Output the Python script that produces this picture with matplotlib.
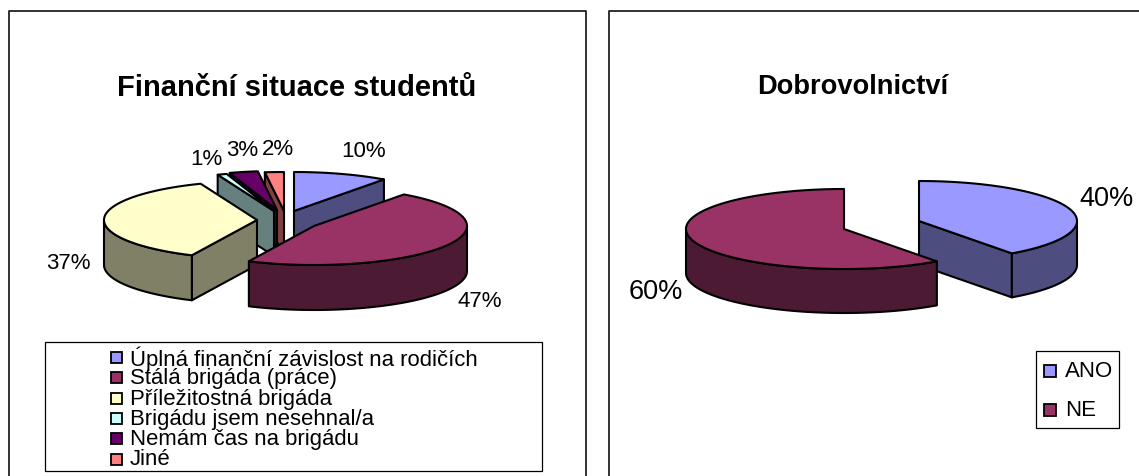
import numpy as np
import matplotlib
matplotlib.use("Agg")
import matplotlib.pyplot as plt
from matplotlib.patches import Polygon, Rectangle

plt.rcParams['font.family'] = ['Liberation Sans', 'DejaVu Sans']

W, H = 1139, 477

# ---- data ----
fin_title = "Finanční situace studentů"
fin_labels = ["Úplná finanční závislost na rodičích", "Stálá brigáda (práce)",
              "Příležitostná brigáda", "Brigádu jsem nesehnal/a",
              "Nemám čas na brigádu", "Jiné"]
fin_values = [10, 47, 37, 1, 3, 2]
fin_colors = ["#9999FF", "#993366", "#FFFFCC", "#CCFFFF", "#660066", "#FF8080"]
fin_shades = ["#4D4D80", "#4D1A33", "#808066", "#668080", "#330033", "#804040"]
fin_centers = [(294, 212), (314, 227), (257, 221), (274, 212), (277, 211), (284, 212)]
fin_order = [0, 5, 4, 3, 2, 1]
fin_label_xy = [(364, 152), (480, 302), (68, 264), (206, 160), (242, 151), (278, 150)]

vol_title = "Dobrovolnictví"
vol_labels = ["ANO", "NE"]
vol_values = [40, 60]
vol_colors = ["#9999FF", "#993366"]
vol_shades = ["#4D4D80", "#4D1A33"]
vol_centers = [(919, 222), (844, 230)]
vol_order = [0, 1]
vol_label_xy = [(1106, 199), (656, 292)]

fig = plt.figure(figsize=(W / 100, H / 100), dpi=100, facecolor="white")
ax = fig.add_axes([0, 0, 1, 1])
ax.set_xlim(0, W)
ax.set_ylim(H, 0)
ax.axis("off")
LW = 1.5


def pt(c, a, rx, ry):
    r = np.radians(a)
    return c[0] + rx * np.sin(r), c[1] - ry * np.cos(r)


def arc(c, a1, a2, rx, ry):
    t = np.linspace(a1, a2, max(2, int(abs(a2 - a1)) + 2))
    x, y = pt(c, t, rx, ry)
    return np.column_stack([x, y])


def poly(pts, color, z):
    ax.add_patch(Polygon(pts, closed=True, facecolor=color, edgecolor="black",
                         linewidth=LW, joinstyle="round", zorder=z))


def pie3d(values, colors, shades, centers, order, rx, ry, depth):
    cum = np.concatenate([[0], np.cumsum(values)]) * 3.6
    z = 2
    for i in order:
        a1, a2 = cum[i], cum[i + 1]
        c = centers[i]
        down = np.array([0, depth])
        for a, front in ((a1, np.sin(np.radians(a1)) < -1e-6), (a2, np.sin(np.radians(a2)) > 1e-6)):
            if front:
                e = np.array(pt(c, a, rx, ry))
                p0 = np.array(c, float)
                poly([p0, e, e + down, p0 + down], shades[i], z)
                z += 1
        w1, w2 = max(a1, 90), min(a2, 270)
        if w2 > w1:
            top = arc(c, w1, w2, rx, ry)
            poly(np.vstack([top, (top + down)[::-1]]), shades[i], z)
            z += 1
        poly(np.vstack([[c], arc(c, a1, a2, rx, ry)]), colors[i], z)
        z += 1


# chart frames, cut off by the edges of the picture
for x0, x1 in ((8.5, 586), (608.5, W + 20)):
    ax.plot([x0, x0, x1, x1], [H + 5, 11.5, 11.5, H + 5], color="#222222", lw=1.3, zorder=1)

pie3d(fin_values, fin_colors, fin_shades, fin_centers, fin_order, 153, 39, 45)
pie3d(vol_values, vol_colors, vol_shades, vol_centers, vol_order, 158, 40, 44)

ax.text(297, 87.5, fin_title, ha="center", va="center", fontsize=21, fontweight="bold")
ax.text(852.5, 87.5, vol_title, ha="center", va="center", fontsize=19.6, fontweight="bold")

for v, (x, y) in zip(fin_values, fin_label_xy):
    ax.text(x, y, f"{v}%", ha="center", va="center", fontsize=16, zorder=50)
for v, (x, y) in zip(vol_values, vol_label_xy):
    ax.text(x, y, f"{v}%", ha="center", va="center", fontsize=19.5, zorder=50)

# legends
ax.add_patch(Rectangle((45, 342.5), 497, 129.5, facecolor="white", edgecolor="black", lw=0.9, zorder=3))
for k, (lab, col) in enumerate(zip(fin_labels, fin_colors)):
    y = 358.5 + k * 20.3
    ax.add_patch(Rectangle((110.5, y - 5.5), 11, 11, facecolor=col, edgecolor="black", lw=1.3, zorder=4))
    ax.text(130, y, lab, ha="left", va="center", fontsize=15.9, zorder=4)

ax.add_patch(Rectangle((1036, 352), 83, 77, facecolor="white", edgecolor="black", lw=0.9, zorder=3))
for k, (lab, col) in enumerate(zip(vol_labels, vol_colors)):
    y = 372 + k * 39
    ax.add_patch(Rectangle((1044, y - 6), 12, 12, facecolor=col, edgecolor="black", lw=1.3, zorder=4))
    ax.text(1065, y, lab, ha="left", va="center", fontsize=16, zorder=4)

fig.savefig("out.png", dpi=100, facecolor="white")
